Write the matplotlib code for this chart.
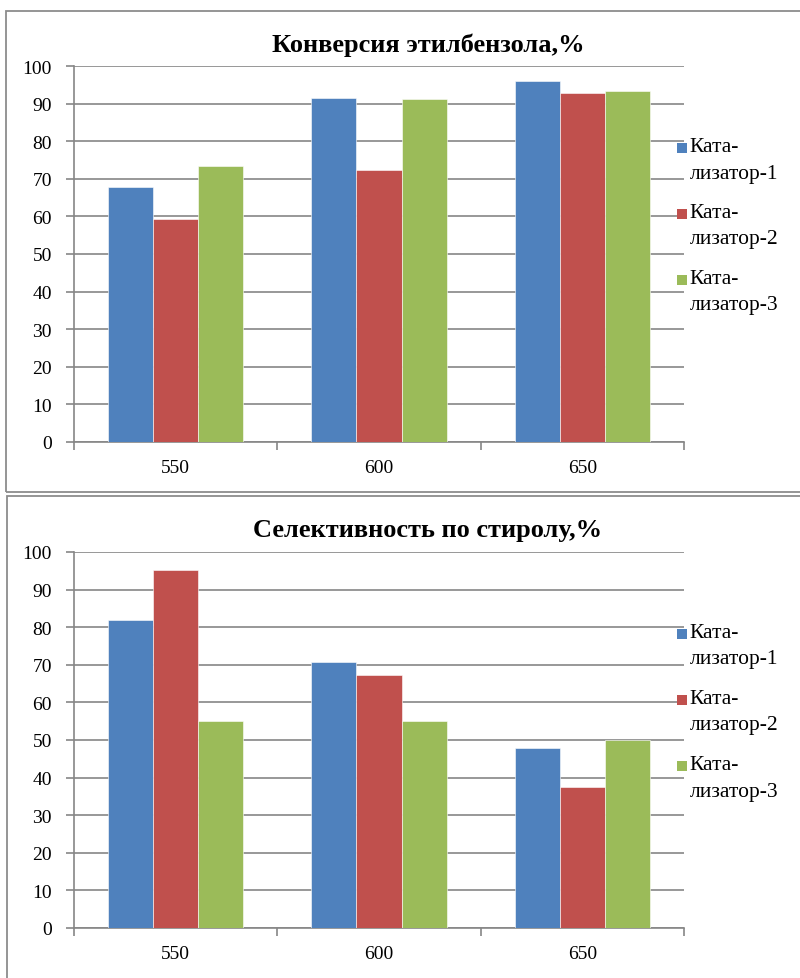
import matplotlib
matplotlib.use("Agg")
import matplotlib.pyplot as plt
import numpy as np
from matplotlib.patches import Rectangle

plt.rcParams['font.family'] = ['Liberation Serif', 'DejaVu Serif']

categories = ["550", "600", "650"]
series_names = ["Ката-\nлизатор-1", "Ката-\nлизатор-2", "Ката-\nлизатор-3"]
colors = ["#4F81BD", "#C0504D", "#9BBB59"]

conversion_title = "Конверсия этилбензола,%"
conversion = [
    [67.8, 91.5, 96.0],
    [59.3, 72.3, 92.9],
    [73.3, 91.1, 93.3],
]

selectivity_title = "Селективность по стиролу,%"
selectivity = [
    [81.9, 70.7, 48.0],
    [95.3, 67.2, 37.6],
    [55.0, 55.0, 50.1],
]

yticks = list(range(0, 101, 10))

W, H = 800, 979
fig = plt.figure(figsize=(W / 100, H / 100), dpi=100)

# panel borders
fig.patches.append(Rectangle((6 / W, 1 - 493 / H), 1.0, (493 - 12) / H,
                             transform=fig.transFigure, fill=False,
                             edgecolor="#8c8c8c", linewidth=1.3))
fig.patches.append(Rectangle((7 / W, -0.01), 1.0, (1 - 497 / H) + 0.01,
                             transform=fig.transFigure, fill=False,
                             edgecolor="#8c8c8c", linewidth=1.3))

def make_axes(top_px, bottom_px):
    left, right = 74, 684
    return fig.add_axes([left / W, 1 - bottom_px / H, (right - left) / W,
                         (bottom_px - top_px) / H])

def draw(ax, data, title, title_y_px):
    x = np.arange(len(categories))
    bw = 0.222
    for i, vals in enumerate(data):
        ax.bar(x + (i - 1) * bw, vals, width=bw, color=colors[i],
               edgecolor="white", linewidth=0.4, zorder=3)
    ax.set_xlim(-0.5, len(categories) - 0.5)
    ax.set_ylim(0, 100)
    ax.set_yticks(yticks)
    ax.set_yticklabels([str(t) for t in yticks], fontsize=14)
    ax.set_xticks(x)
    ax.set_xticklabels(categories, fontsize=14)
    ax.set_xticks(np.arange(-0.5, len(categories), 1.0), minor=True)
    ax.tick_params(axis="x", which="major", length=0, pad=12)
    ax.tick_params(axis="x", which="minor", length=6, color="#868686", width=1.2)
    ax.tick_params(axis="y", length=6, color="#868686", width=1.2, pad=10)
    ax.grid(axis="y", color="#868686", linewidth=1.2, zorder=0)
    for s in ["top", "right"]:
        ax.spines[s].set_visible(False)
    for s in ["left", "bottom"]:
        ax.spines[s].set_color("#868686")
        ax.spines[s].set_linewidth(1.2)
    ax.set_axisbelow(True)
    fig.text(428 / W, 1 - title_y_px / H, title, ha="center", va="center",
             fontsize=19, fontweight="bold")
    # legend
    for i, name in enumerate(series_names):
        ytop = 1 - (81 + i * 66) / 376.0
        ax.add_patch(Rectangle((1.0 - 7 / 610, ytop - 6 / 376), 10 / 610, 10 / 376,
                               transform=ax.transAxes, facecolor=colors[i],
                               edgecolor="none", clip_on=False))
        l1, l2 = name.split("\n")
        ax.text(1.0 + 5 / 610, ytop, l1, transform=ax.transAxes,
                ha="left", va="center", fontsize=15.5)
        ax.text(1.0 + 6 / 610, ytop - 26 / 376, l2, transform=ax.transAxes,
                ha="left", va="center", fontsize=15.5)

ax1 = make_axes(67, 443)
draw(ax1, conversion, conversion_title, 45)
ax2 = make_axes(553, 929)
draw(ax2, selectivity, selectivity_title, 531)

fig.savefig("out.png", dpi=100, facecolor="white")
